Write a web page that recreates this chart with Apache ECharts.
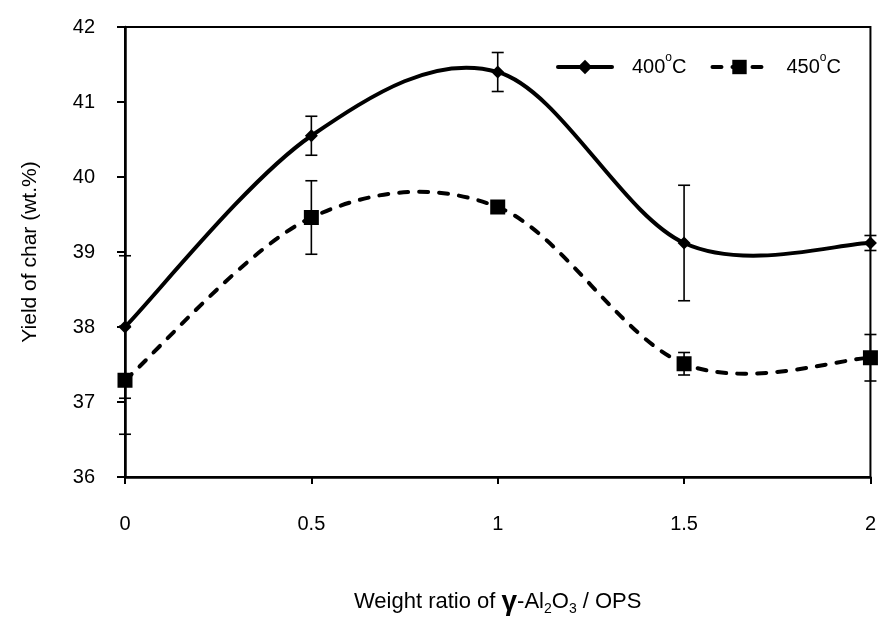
<!DOCTYPE html>
<html>
<head>
<meta charset="utf-8">
<script src="https://cdn.jsdelivr.net/npm/echarts@6/dist/echarts.min.js"></script>
<style>
  html, body { margin: 0; padding: 0; background: #fff; }
  #chart { width: 879px; height: 621px; }
</style>
</head>
<body>
<div id="chart"></div>
<script>
// Weight ratio of γ-Al2O3 to OPS
const ratios = [0, 0.5, 1, 1.5, 2];
const xTickLabels = ['0', '0.5', '1', '1.5', '2'];

// Char yield (wt.%) and standard deviations at each pyrolysis temperature
const seriesNames = ['400°C', '450°C'];
const yield400 = [38.00, 40.55, 41.40, 39.12, 39.12];
const yield450 = [37.29, 39.46, 39.60, 37.51, 37.59];
const err400 = [0.95, 0.26, 0.26, 0.77, 0.10];
const err450 = [0.72, 0.49, 0.06, 0.15, 0.31];

const FONT = '"Liberation Sans", Arial, sans-serif';

function pairs(ys) { return ratios.map((x, i) => [x, ys[i]]); }
function triples(ys, es) { return ratios.map((x, i) => [x, ys[i], es[i]]); }

// Smoothed curve through the points (cardinal spline, Bezier form)
function curveRenderer(ys, dash) {
  return function (params, api) {
    if (params.dataIndex !== 0) return null;
    const p = ratios.map((x, i) => api.coord([x, ys[i]]));
    const n = p.length;
    let d = 'M' + p[0][0] + ',' + p[0][1];
    for (let i = 0; i < n - 1; i++) {
      const a = p[Math.max(i - 1, 0)], b = p[i], c = p[i + 1], e = p[Math.min(i + 2, n - 1)];
      const c1x = b[0] + (c[0] - a[0]) / 6, c1y = b[1] + (c[1] - a[1]) / 6;
      const c2x = c[0] - (e[0] - b[0]) / 6, c2y = c[1] - (e[1] - b[1]) / 6;
      d += ' C' + c1x + ',' + c1y + ' ' + c2x + ',' + c2y + ' ' + c[0] + ',' + c[1];
    }
    return {
      type: 'path',
      shape: { pathData: d },
      style: { fill: 'none', stroke: '#000', lineWidth: 4, lineDash: dash, lineCap: 'round', lineJoin: 'round' }
    };
  };
}

// Vertical error bar with caps
function errorBarRenderer(params, api) {
  const x = api.value(0), y = api.value(1), e = api.value(2);
  const top = api.coord([x, y + e]);
  const bot = api.coord([x, y - e]);
  const w = 6;
  const st = { stroke: '#000', lineWidth: 1.6 };
  return {
    type: 'group',
    children: [
      { type: 'line', shape: { x1: top[0], y1: top[1], x2: bot[0], y2: bot[1] }, style: st },
      { type: 'line', shape: { x1: top[0] - w, y1: top[1], x2: top[0] + w, y2: top[1] }, style: st },
      { type: 'line', shape: { x1: bot[0] - w, y1: bot[1], x2: bot[0] + w, y2: bot[1] }, style: st }
    ]
  };
}

const chart = echarts.init(document.getElementById('chart'), null, { renderer: 'canvas' });

const legendText = {
  fontFamily: FONT, fontSize: 20, color: '#000',
  rich: {
    n: { fontFamily: FONT, fontSize: 20, color: '#000', lineHeight: 30 },
    sup: { fontFamily: FONT, fontSize: 12, color: '#000', lineHeight: 12, verticalAlign: 'top' }
  }
};

chart.setOption({
  animation: false,
  backgroundColor: '#fff',
  grid: {
    left: 125, right: 4, top: 27, bottom: 140,
    show: true, borderColor: '#000', borderWidth: 2, backgroundColor: 'transparent'
  },
  legend: {
    left: 551, top: 47,
    itemWidth: 54, itemHeight: 18, itemGap: 24,
    selectedMode: false,
    data: [
      { name: seriesNames[0], lineStyle: { color: '#000', width: 4, type: 'solid', opacity: 1, cap: 'round' } },
      { name: seriesNames[1], lineStyle: { color: '#000', width: 4, type: [9, 11], opacity: 1, cap: 'round' } }
    ],
    formatter: name => '{n|' + name.replace('°', '}{sup|o}{n|') + '}',
    textStyle: Object.assign({ padding: [0, 0, 0, 15] }, legendText)
  },
  xAxis: {
    type: 'value', min: 0, max: 2, interval: 0.5,
    name: 'Weight ratio of {g|γ}-Al{sub|2}O{sub|3} / OPS',
    nameLocation: 'middle', nameGap: 111,
    nameTextStyle: {
      fontFamily: FONT, fontSize: 22, color: '#000',
      rich: {
        g: { fontFamily: FONT, fontSize: 28, fontWeight: 'bold', color: '#000', lineHeight: 28 },
        sub: { fontFamily: FONT, fontSize: 14, color: '#000', lineHeight: 14, verticalAlign: 'bottom' }
      }
    },
    axisLine: { lineStyle: { color: '#000', width: 2.5 } },
    axisTick: { length: 7, lineStyle: { color: '#000', width: 2 } },
    splitLine: { show: false },
    axisLabel: {
      margin: 37, fontFamily: FONT, fontSize: 20, color: '#000',
      formatter: v => xTickLabels[ratios.indexOf(v)]
    }
  },
  yAxis: {
    type: 'value', min: 36, max: 42, interval: 1,
    name: 'Yield of char (wt.%)',
    nameLocation: 'middle', nameGap: 84,
    nameTextStyle: { fontFamily: FONT, fontSize: 21, color: '#000' },
    axisLine: { show: true, lineStyle: { color: '#000', width: 2.5 } },
    axisTick: { show: true, length: 8, lineStyle: { color: '#000', width: 2 } },
    splitLine: { show: false },
    axisLabel: { margin: 30, fontFamily: FONT, fontSize: 20, color: '#000' }
  },
  series: [
    {
      type: 'custom', name: 'err400', data: triples(yield400, err400),
      renderItem: errorBarRenderer, encode: { x: 0, y: 1 }, z: 2, silent: true
    },
    {
      type: 'custom', name: 'err450', data: triples(yield450, err450),
      renderItem: errorBarRenderer, encode: { x: 0, y: 1 }, z: 2, silent: true
    },
    {
      type: 'custom', name: 'curve400', data: pairs(yield400),
      renderItem: curveRenderer(yield400, null), encode: { x: 0, y: 1 }, z: 3, silent: true
    },
    {
      type: 'custom', name: 'curve450', data: pairs(yield450),
      renderItem: curveRenderer(yield450, [9, 11]), encode: { x: 0, y: 1 }, z: 3, silent: true
    },
    {
      type: 'line', name: seriesNames[0], data: pairs(yield400),
      symbol: 'diamond', symbolSize: 13, showSymbol: true,
      itemStyle: { color: '#000' },
      lineStyle: { color: '#000', width: 0, opacity: 0 },
      z: 4, silent: true
    },
    {
      type: 'line', name: seriesNames[1], data: pairs(yield450),
      symbol: 'rect', symbolSize: 15, showSymbol: true,
      itemStyle: { color: '#000' },
      lineStyle: { color: '#000', width: 0, opacity: 0 },
      z: 4, silent: true
    }
  ]
});
</script>
</body>
</html>
